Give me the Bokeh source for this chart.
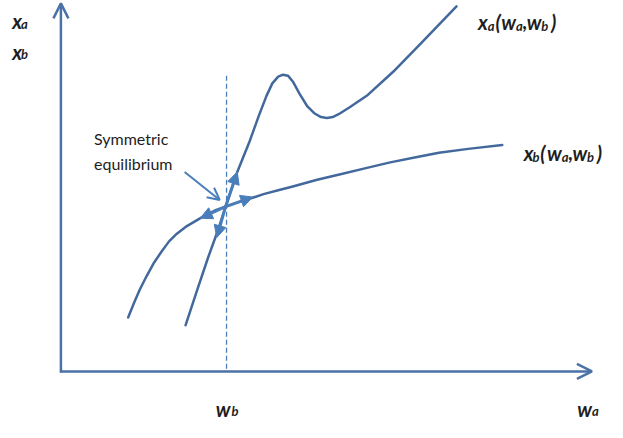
from bokeh.plotting import figure
from bokeh.models import Range1d, Arrow, NormalHead, OpenHead, ColumnDataSource
from bokeh.core.properties import value
from bokeh.embed import file_html
from bokeh.resources import INLINE

# ---- data (diagram coordinates, y grows downward) ----
xb_curve_x = [131, 137, 143, 150, 157, 165, 173, 181, 190, 200, 210, 220, 231, 245, 258, 270, 285, 300, 325, 350, 375, 400, 425, 450, 480, 515]
xb_curve_y = [329, 314, 300, 286, 273, 261, 250, 242, 235, 229, 223, 218, 214, 209, 205, 201, 197, 193, 186, 180, 174, 168, 163, 158, 154, 150]

xa_curve_x = [190, 202, 213, 223, 231, 243, 255, 265, 273, 279, 285, 290, 295, 300, 307, 315, 322, 329, 335, 341, 347, 358, 377, 403, 433, 468]
xa_curve_y = [337, 300, 267, 239, 214, 178, 148, 120, 99, 86, 79, 77, 78, 84, 97, 110, 117, 121, 122, 121, 118, 111, 98, 74, 43, 6]

origin = (62, 385)
y_axis_top = 3
x_axis_right = 607
equilibrium = (231, 214)
dashed_top = 78

# directions of stability arrows from the equilibrium (end points)
stab_end_x = [205, 259, 243, 222]
stab_end_y = [226, 204, 178, 246]

note_start = (189, 178)
note_end = (225, 207)
note_lines = ["Symmetric", "equilibrium"]

# label pieces: (text, x, baseline y, size px)
label_pieces = [
    ("x", 12, 21, 20), ("a", 21, 24, 13),
    ("x", 12, 53, 20), ("b", 21, 56, 13),
    ("x", 490, 22, 20), ("a", 500, 26, 13), ("(", 508, 22, 20), ("w", 514, 22, 20),
    ("a", 529, 26, 13), (",", 536, 22, 20), ("w", 540, 22, 20), ("b", 555, 26, 13), (")", 565, 22, 20),
    ("x", 537, 158, 20), ("b", 546, 162, 13), ("(", 554, 158, 20), ("w", 561, 158, 20),
    ("a", 576, 162, 13), (",", 583, 158, 20), ("w", 587, 158, 20), ("b", 602, 162, 13), (")", 612, 158, 20),
    ("w", 221, 424, 20), ("b", 237, 426, 13),
    ("w", 592, 424, 20), ("a", 607, 426, 13),
]

AXC = "#4a72a6"
CURVE = "#43699c"
ARR = "#4a7ebb"
TXT = "#1e1e1e"
FONT = "Lato"

p = figure(width=607, height=422, x_range=Range1d(0, 623), y_range=Range1d(438, 0),
           x_axis_type=None, y_axis_type=None, output_backend="svg", toolbar_location=None,
           min_border=0, min_border_left=0, min_border_right=0, min_border_top=0, min_border_bottom=0)
p.grid.visible = False
p.outline_line_color = None
p.background_fill_color = "white"

# axes
p.add_layout(Arrow(x_start=origin[0], y_start=origin[1] + 1, x_end=origin[0], y_end=y_axis_top,
                   line_color=AXC, line_width=2.5,
                   end=OpenHead(size=15, line_color=AXC, line_width=2.5)))
p.add_layout(Arrow(x_start=origin[0] - 1, y_start=origin[1], x_end=x_axis_right, y_end=origin[1],
                   line_color=AXC, line_width=2.5,
                   end=OpenHead(size=15, line_color=AXC, line_width=2.5)))

# dashed guide
p.line([equilibrium[0] + 1, equilibrium[0] + 1], [dashed_top, origin[1]], line_color=ARR,
       line_width=1.3, line_dash="5 3")

# curves
p.line(xb_curve_x, xb_curve_y, line_color=CURVE, line_width=2.5, line_cap="round", line_join="round")
p.line(xa_curve_x, xa_curve_y, line_color=CURVE, line_width=2.5, line_cap="round", line_join="round")

# stability arrows
for ex, ey in zip(stab_end_x, stab_end_y):
    p.add_layout(Arrow(x_start=equilibrium[0], y_start=equilibrium[1], x_end=ex, y_end=ey,
                       line_color=ARR, line_width=3,
                       end=NormalHead(size=12, fill_color=ARR, line_color=ARR, line_width=1)))

# annotation arrow
p.add_layout(Arrow(x_start=note_start[0], y_start=note_start[1], x_end=note_end[0], y_end=note_end[1],
                   line_color=ARR, line_width=2,
                   end=OpenHead(size=12, line_color=ARR, line_width=2)))

p.text(x=[96, 96], y=[143, 169], text=note_lines, text_font=value(FONT), text_font_size="16px",
       text_color=TXT, text_baseline="alphabetic", text_align="left")

src = ColumnDataSource(dict(
    text=[t[0] for t in label_pieces], x=[t[1] for t in label_pieces],
    y=[t[2] for t in label_pieces], size=[f"{t[3]}px" for t in label_pieces]))
p.text(x="x", y="y", text="text", source=src, text_font=value(FONT), text_font_size="size",
       text_font_style="bold italic", text_color=TXT, text_baseline="alphabetic", text_align="left")

open("out.html", "w").write(file_html(p, INLINE))
